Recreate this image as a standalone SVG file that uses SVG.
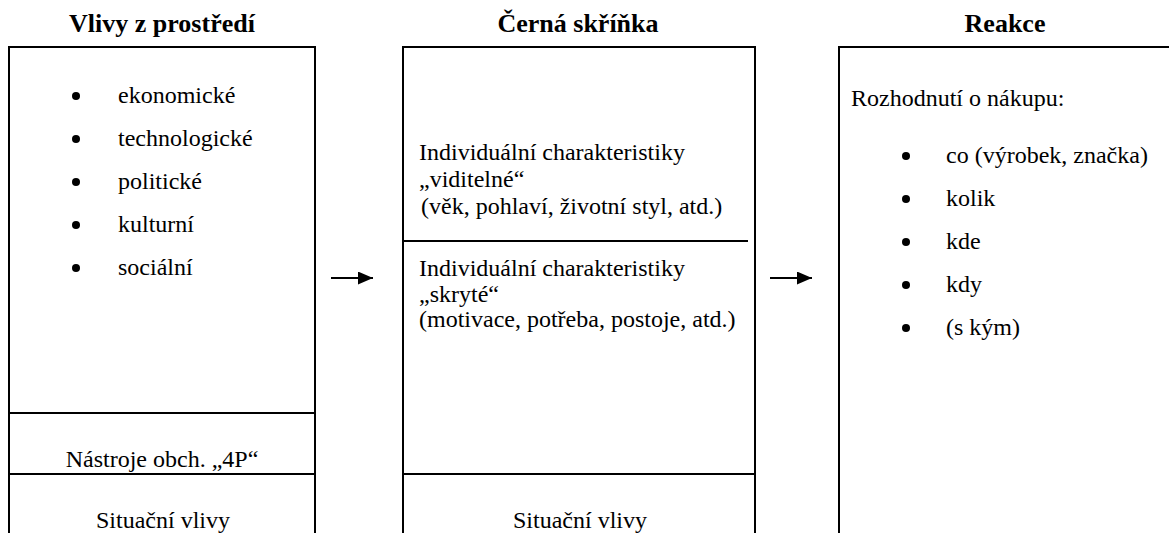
<svg xmlns="http://www.w3.org/2000/svg" width="1169" height="533" viewBox="0 0 1169 533">
<style>
.t{font-size:24px;fill:#000}
.h{font-size:26px;font-weight:bold;fill:#000}
.c{text-anchor:middle}
.box{fill:none;stroke:#000;stroke-width:2}
.ln{stroke:#000;stroke-width:2}
.arr{stroke:#000;stroke-width:2}
</style>
<defs>
<marker id="ah" viewBox="0 0 15 13" refX="15" refY="6.5" markerWidth="15" markerHeight="13" markerUnits="userSpaceOnUse" orient="auto">
<path d="M0,0 L15,6.5 L0,13 z" fill="#000"/>
</marker>
</defs>
<rect width="1169" height="533" fill="#fff"/>
<g font-family="'Liberation Serif', 'Times New Roman', Tinos, 'DejaVu Serif', serif">
<g id="left">
<text class="h c" x="162" y="32">Vlivy z prostředí</text>
<path class="box" d="M9,540 V47 H315 V540"/>
<line class="ln" x1="9" y1="413" x2="315" y2="413"/>
<line class="ln" x1="9" y1="474" x2="315" y2="474"/>
<circle cx="76" cy="96" r="4"/><text class="t" x="118" y="103">ekonomické</text>
<circle cx="76" cy="139" r="4"/><text class="t" x="118" y="146">technologické</text>
<circle cx="76" cy="182" r="4"/><text class="t" x="118" y="189">politické</text>
<circle cx="76" cy="225" r="4"/><text class="t" x="118" y="232">kulturní</text>
<circle cx="76" cy="268" r="4"/><text class="t" x="118" y="275">sociální</text>
<text class="t c" x="162" y="467">Nástroje obch. „4P“</text>
<text class="t c" x="163" y="528">Situační vlivy</text>
</g>

<g id="middle">
<text class="h c" x="578" y="32">Černá skříňka</text>
<path class="box" d="M403,540 V47 H755 V540"/>
<line class="ln" x1="403" y1="241" x2="748" y2="241"/>
<line class="ln" x1="403" y1="474" x2="755" y2="474"/>
<text class="t" x="419" y="160">Individuální charakteristiky</text>
<text class="t" x="419" y="187">„viditelné“</text>
<text class="t" x="421" y="214">(věk, pohlaví, životní styl, atd.)</text>
<text class="t" x="419" y="276">Individuální charakteristiky</text>
<text class="t" x="419" y="302">„skryté“</text>
<text class="t" x="419" y="327">(motivace, potřeba, postoje, atd.)</text>
<text class="t c" x="580" y="528">Situační vlivy</text>
</g>

<g id="right">
<text class="h c" x="1005" y="32">Reakce</text>
<path class="box" d="M839,540 V47 H1175"/>
<text class="t" x="851" y="106">Rozhodnutí o nákupu:</text>
<circle cx="906" cy="156" r="4"/><text class="t" x="946" y="163">co (výrobek, značka)</text>
<circle cx="906" cy="199" r="4"/><text class="t" x="946" y="206">kolik</text>
<circle cx="906" cy="242" r="4"/><text class="t" x="946" y="249">kde</text>
<circle cx="906" cy="285" r="4"/><text class="t" x="946" y="292">kdy</text>
<circle cx="906" cy="328" r="4"/><text class="t" x="946" y="335">(s kým)</text>
</g>
</g>
<g id="connectors">
<line class="arr" x1="331" y1="278" x2="373" y2="278" marker-end="url(#ah)"/>
<line class="arr" x1="770" y1="278" x2="812" y2="278" marker-end="url(#ah)"/>
</g>
</svg>
